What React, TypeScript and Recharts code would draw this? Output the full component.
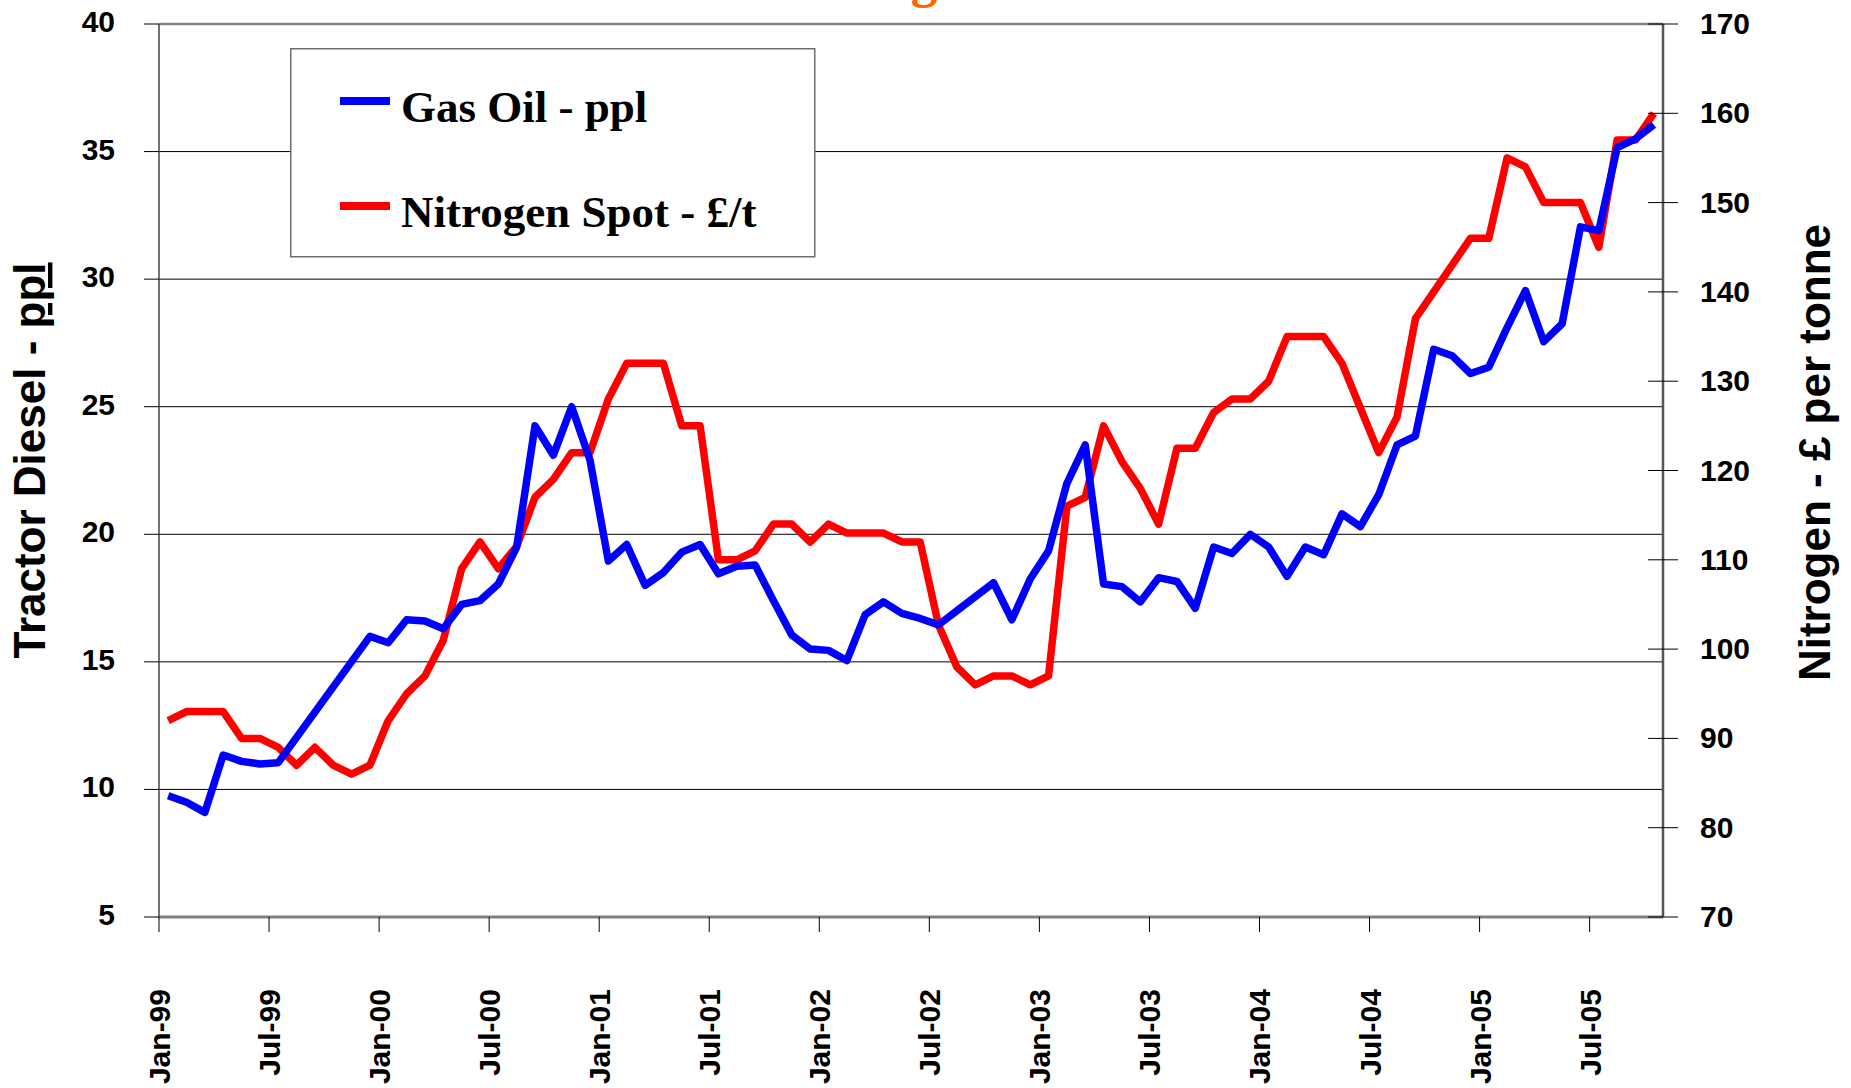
import { LineChart, Line, XAxis, YAxis, CartesianGrid, ReferenceLine } from 'recharts';

// monthly values, Jan-99 .. Oct-05
const gasOil = [
  9.75, 9.5, 9.1, 11.35, 11.1, 11.0, 11.05, null, null, null, null, 16.0,
  15.75, 16.65, 16.6, 16.3, 17.25, 17.4, 18.05, 19.5, 24.25, 23.1, 25.0, 22.9,
  18.95, 19.6, 18.0, 18.5, 19.3, 19.6, 18.45, 18.75, 18.8, 17.4, 16.05, 15.5,
  15.45, 15.05, 16.85, 17.35, 16.9, 16.7, 16.45, 17.0, 17.55, 18.1, 16.65, 18.25,
  19.35, 22.0, 23.5, 18.05, 17.95, 17.35, 18.3, 18.15, 17.1, 19.5, 19.25, 20.0,
  19.5, 18.35, 19.5, 19.2, 20.8, 20.3, 21.55, 23.5, 23.85, 27.25, 27.0, 26.3,
  26.55, 28.1, 29.55, 27.55, 28.25, 32.05, 31.9, 35.15, 35.5, 36.05,
];

const nitrogen = [
  92, 93, 93, 93, 90, 90, 89, 87, 89, 87, 86, 87,
  92, 95, 97, 101, 109, 112, 109, 111.5, 117, 119, 122, 122,
  128, 132, 132, 132, 125, 125, 110, 110, 111, 114, 114, 112,
  114, 113, 113, 113, 112, 112, 102.7, 98, 96, 97, 97, 96,
  97, 116, 117, 125, 121, 118, 114, 122.5, 122.5, 126.5, 128, 128,
  130, 135, 135, 135, 132, 127, 122, 126, 137, 140, 143, 146,
  146, 155, 154, 150, 150, 150, 145, 157, 157, 160,
];

const tickLabels = [
  'Jan-99', 'Jul-99', 'Jan-00', 'Jul-00', 'Jan-01', 'Jul-01', 'Jan-02',
  'Jul-02', 'Jan-03', 'Jul-03', 'Jan-04', 'Jul-04', 'Jan-05', 'Jul-05',
];
const leftTicks = [5, 10, 15, 20, 25, 30, 35, 40];
const rightTicks = [70, 80, 90, 100, 110, 120, 130, 140, 150, 160, 170];

const data = gasOil.map((g, i) => ({ idx: i, gasOil: g, nitrogen: nitrogen[i] }));
// ticks sit on the boundary between months, every 6 months
const xTicks = tickLabels.map((_, k) => k * 6 - 0.5);

const sans = '"Liberation Sans", Arial, sans-serif';
const serif = '"Liberation Serif", "Times New Roman", serif';

function MonthTick(props: any) {
  const { x, y, payload } = props;
  const label = tickLabels[Math.round((payload.value + 0.5) / 6)];
  const bx = x + 11;
  return (
    <text
      x={bx}
      y={y}
      transform={`rotate(-90, ${bx}, ${y})`}
      textAnchor="end"
      fontFamily={sans}
      fontWeight={700}
      fontSize={30}
      fill="#000"
    >
      {label}
    </text>
  );
}

function RightTick(props: any) {
  const { x, y, payload } = props;
  // inner half of the crossing tick mark (outer half is drawn by recharts)
  const axisX = x - 22 - 15;
  return (
    <g>
      <line x1={axisX - 15} x2={axisX} y1={y} y2={y} stroke="#000" strokeWidth={1} />
      <text
        x={x}
        y={y}
        dy={10}
        textAnchor="start"
        fontFamily={sans}
        fontWeight={700}
        fontSize={30}
        fill="#000"
      >
        {payload.value}
      </text>
    </g>
  );
}

function LeftTick(props: any) {
  const { x, y, payload } = props;
  return (
    <text
      x={x}
      y={y}
      dy={8}
      textAnchor="end"
      fontFamily={sans}
      fontWeight={700}
      fontSize={30}
      fill="#000"
    >
      {payload.value}
    </text>
  );
}

function LeftTitle(props: any) {
  const { viewBox } = props;
  const bx = viewBox.x + 45;
  const cy = viewBox.y + viewBox.height / 2 - 10;
  return (
    <text
      x={bx}
      y={cy}
      transform={`rotate(-90, ${bx}, ${cy})`}
      textAnchor="middle"
      fontFamily={sans}
      fontWeight={700}
      fontSize={44}
      fill="#000"
    >
      Tractor Diesel - <tspan textDecoration="underline">ppl</tspan>
    </text>
  );
}

function RightTitle(props: any) {
  const { viewBox } = props;
  const bx = viewBox.x + 167;
  const cy = viewBox.y + viewBox.height / 2 - 18;
  return (
    <text
      x={bx}
      y={cy}
      transform={`rotate(-90, ${bx}, ${cy})`}
      textAnchor="middle"
      fontFamily={sans}
      fontWeight={700}
      fontSize={44}
      fill="#000"
    >
      Nitrogen - £ per tonne
    </text>
  );
}

const legendItems = [
  { label: 'Gas Oil - ppl', color: '#0000FF' },
  { label: 'Nitrogen Spot - £/t', color: '#FF0000' },
];

function ChartLegend() {
  return (
    <svg
      width={526}
      height={210}
      style={{ position: 'absolute', left: 290, top: 48 }}
    >
      <rect x={0.75} y={0.75} width={524} height={208} fill="#fff" stroke="#6e6e6e" strokeWidth={1.5} />
      {legendItems.map((item, i) => (
        <g key={item.label}>
          <line x1={50} x2={100} y1={53 + i * 105} y2={53 + i * 105} stroke={item.color} strokeWidth={8} />
          <text
            x={111}
            y={74 + i * 105}
            fontFamily={serif}
            fontWeight={700}
            fontSize={45}
            fill="#000"
          >
            {item.label}
          </text>
        </g>
      ))}
    </svg>
  );
}

export default function App() {
  return (
    <div style={{ position: 'absolute', left: 0, top: 0, width: 1851, height: 1088, background: '#fff' }}>
      <LineChart
        width={1851}
        height={1088}
        data={data}
        margin={{ top: 24, right: 0, bottom: 0, left: 0 }}
      >
        <CartesianGrid
          yAxisId="left"
          vertical={false}
          stroke="#000"
          strokeWidth={1}
        />
        <XAxis
          dataKey="idx"
          type="number"
          domain={[-0.5, 81.5]}
          allowDataOverflow
          ticks={xTicks}
          interval={0}
          height={171}
          tickSize={15}
          tickMargin={57}
          tick={<MonthTick />}
          tickLine={{ stroke: '#000' }}
          axisLine={{ stroke: '#808080', strokeWidth: 3 }}
        />
        <YAxis
          yAxisId="left"
          orientation="left"
          domain={[5, 40]}
          ticks={leftTicks}
          interval={0}
          width={159}
          tickSize={15}
          tickMargin={29}
          tick={<LeftTick />}
          tickLine={{ stroke: '#000' }}
          axisLine={{ stroke: '#444', strokeWidth: 1.5 }}
          label={<LeftTitle />}
        />
        <YAxis
          yAxisId="right"
          orientation="right"
          domain={[70, 170]}
          ticks={rightTicks}
          interval={0}
          width={188}
          tickSize={15}
          tickMargin={22}
          tick={<RightTick />}
          tickLine={{ stroke: '#000' }}
          axisLine={{ stroke: '#555', strokeWidth: 2.5 }}
          label={<RightTitle />}
        />
        <ReferenceLine yAxisId="left" y={40} stroke="#808080" strokeWidth={2.5} />
        <Line
          yAxisId="right"
          type="linear"
          dataKey="nitrogen"
          stroke="#FF0000"
          strokeWidth={7.5}
          strokeLinejoin="round"
          dot={false}
          activeDot={false}
          isAnimationActive={false}
        />
        <Line
          yAxisId="left"
          type="linear"
          dataKey="gasOil"
          stroke="#0000FF"
          strokeWidth={7.5}
          strokeLinejoin="round"
          connectNulls
          dot={false}
          activeDot={false}
          isAnimationActive={false}
        />
      </LineChart>
      <ChartLegend />
      <svg width={1851} height={30} style={{ position: 'absolute', left: 0, top: 0 }}>
        <text x={924} y={-4} textAnchor="middle" fontFamily={serif} fontWeight={700} fontSize={54} fill="#FF6600">
          g
        </text>
      </svg>
    </div>
  );
}
